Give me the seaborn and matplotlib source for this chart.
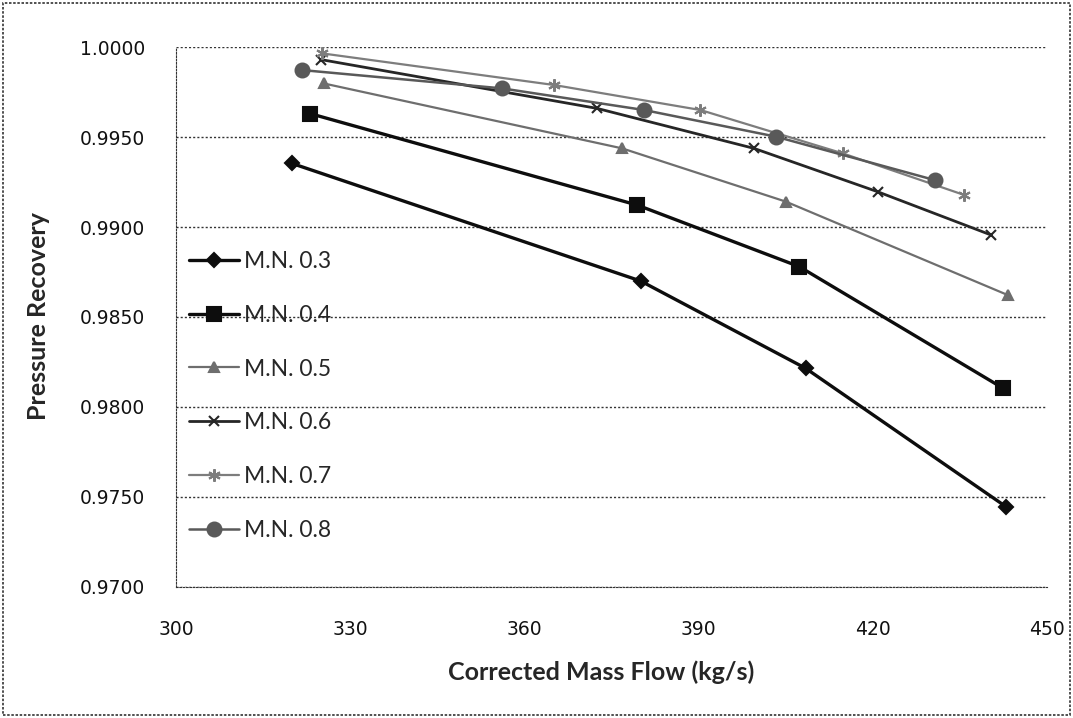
import matplotlib
matplotlib.use("Agg")
import matplotlib.pyplot as plt
import seaborn as sns
import pandas as pd
from matplotlib.patches import Rectangle

# ---- data ----
series_names = ["M.N. 0.3", "M.N. 0.4", "M.N. 0.5", "M.N. 0.6", "M.N. 0.7", "M.N. 0.8"]

mn03_flow = [319.9, 380.0, 408.4, 442.9]
mn03_rec = [0.99354, 0.98700, 0.98215, 0.97446]

mn04_flow = [323.1, 379.4, 407.3, 442.4]
mn04_rec = [0.99630, 0.99122, 0.98780, 0.98104]

mn05_flow = [325.4, 376.8, 405.0, 443.2]
mn05_rec = [0.99798, 0.99437, 0.99141, 0.98622]

mn06_flow = [325.0, 372.5, 399.5, 420.8, 440.3]
mn06_rec = [0.99930, 0.99659, 0.99437, 0.99196, 0.98956]

mn07_flow = [325.1, 365.1, 390.3, 414.8, 435.7]
mn07_rec = [0.99965, 0.99789, 0.99650, 0.99409, 0.99178]

mn08_flow = [321.7, 356.2, 380.6, 403.3, 430.6]
mn08_rec = [0.99872, 0.99770, 0.99650, 0.99502, 0.99261]

x_ticks = [300, 330, 360, 390, 420, 450]
y_ticks = [0.9700, 0.9750, 0.9800, 0.9850, 0.9900, 0.9950, 1.0000]

flows = [mn03_flow, mn04_flow, mn05_flow, mn06_flow, mn07_flow, mn08_flow]
recs = [mn03_rec, mn04_rec, mn05_rec, mn06_rec, mn07_rec, mn08_rec]

frames = []
for name, f, r in zip(series_names, flows, recs):
    frames.append(pd.DataFrame({"flow": f, "rec": r, "series": name}))
df = pd.concat(frames, ignore_index=True)

# ---- styles ----
styles = {
    "M.N. 0.3": dict(color="#0d0d0d", marker="D", ms=7, lw=2.4),
    "M.N. 0.4": dict(color="#0d0d0d", marker="s", ms=10, lw=2.4),
    "M.N. 0.5": dict(color="#6e6e6e", marker="^", ms=7, lw=1.6),
    "M.N. 0.6": dict(color="#262626", marker="x", ms=7, lw=2.0),
    "M.N. 0.7": dict(color="#7d7d7d", marker=(6, 2, 0), ms=9, lw=1.6),
    "M.N. 0.8": dict(color="#595959", marker="o", ms=10, lw=1.8),
}

sns.set_style("white")
plt.rcParams["font.family"] = ["DejaVu Sans"]

fig = plt.figure(figsize=(10.73, 7.18), dpi=100)
ax = fig.add_axes([0.164, 0.1825, 0.812, 0.752])

for name in series_names:
    st = styles[name]
    sub = df[df["series"] == name]
    sns.lineplot(data=sub, x="flow", y="rec", ax=ax, color=st["color"],
                 marker=st["marker"], markersize=st["ms"], linewidth=st["lw"],
                 markeredgecolor=st["color"], markerfacecolor=st["color"],
                 markeredgewidth=1.5, label=name, estimator=None, sort=False)

ax.set_xlim(300, 450)
ax.set_ylim(0.97, 1.0)
ax.set_xticks(x_ticks)
ax.set_yticks(y_ticks)
ax.set_yticklabels([f"{v:.4f}" for v in y_ticks])
ax.tick_params(axis="both", labelsize=13.5, colors="#111111")
ax.tick_params(axis="y", length=4, width=1, direction="out", pad=18)
ax.tick_params(axis="x", length=0, pad=24)

ax.grid(axis="y", linestyle=(0, (1.5, 1.5)), color="#333333", linewidth=1.0)
ax.grid(axis="x", visible=False)
for s in ["top", "right"]:
    ax.spines[s].set_visible(False)
ax.spines["left"].set_linestyle((0, (1.5, 1.5)))
ax.spines["left"].set_color("#333333")
ax.spines["bottom"].set_linestyle((0, (1.5, 1.5)))
ax.spines["bottom"].set_color("#333333")

ax.set_xlabel("")
ax.set_ylabel("")
fig.text(0.036, 0.56, "Pressure Recovery", rotation=90, ha="center", va="center",
         fontsize=18, fontweight="bold", family=["Lato", "DejaVu Sans"])
fig.text(0.56, 0.064, "Corrected Mass Flow (kg/s)", ha="center", va="center",
         fontsize=18, fontweight="bold", family=["Lato", "DejaVu Sans"])

leg = ax.legend(loc="upper left", bbox_to_anchor=(-0.004, 0.652), frameon=False,
                prop={"family": ["Lato", "DejaVu Sans"], "size": 16.5},
                handlelength=2.2, handletextpad=0.2, labelspacing=1.43,
                borderpad=0.2)

fig.patches.append(Rectangle((0.003, 0.004), 0.994, 0.992, transform=fig.transFigure,
                             fill=False, edgecolor="#333333", linewidth=1.2,
                             linestyle=(0, (1.5, 1.0))))

fig.savefig("out.png", dpi=100)
